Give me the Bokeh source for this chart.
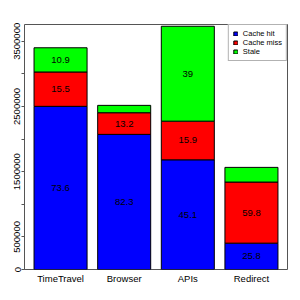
from bokeh.plotting import figure
from bokeh.models import ColumnDataSource, FactorRange, Range1d, FixedTicker, Legend
from bokeh.core.properties import value
from bokeh.embed import file_html
from bokeh.resources import INLINE

# ---- data ----
categories = ["TimeTravel", "Browser", "APIs", "Redirect"]
cache_hit = [2502000, 2072000, 1682000, 404000]
cache_miss = [527000, 332000, 593000, 937000]
stale = [371000, 113000, 1455000, 225000]
hit_labels = ["73.6", "82.3", "45.1", "25.8"]
miss_labels = ["15.5", "13.2", "15.9", "59.8"]
stale_labels = ["10.9", "", "39", ""]
series_names = ["Cache hit", "Cache miss", "Stale"]
series_colors = ["#0000FF", "#FF0000", "#00FF00"]
y_ticks = [0, 500000, 1000000, 1500000, 2000000, 2500000, 3000000, 3500000]
y_tick_labels = ["0", "500000", "", "1500000", "", "2500000", "", "3500000"]

FONT = "Liberation Sans"

source = ColumnDataSource(dict(cat=categories, hit=cache_hit, miss=cache_miss, stale=stale))

p = figure(
    width=300, height=300,
    x_range=FactorRange(*categories, factor_padding=0.2, range_padding=0.18,
                        range_padding_units="absolute"),
    y_range=Range1d(0, 3757000),
    output_backend="svg", toolbar_location=None,
    min_border_left=24, min_border_right=13, min_border_top=24, min_border_bottom=31,
)

renderers = p.vbar_stack(["hit", "miss", "stale"], x="cat", width=1.0, source=source,
                         fill_color=series_colors, line_color="black", line_width=1)

# segment labels at segment midpoints
lab_x, lab_y, lab_t = [], [], []
for i, c in enumerate(categories):
    segs = [cache_hit[i], cache_miss[i], stale[i]]
    labs = [hit_labels[i], miss_labels[i], stale_labels[i]]
    base = 0
    for s, t in zip(segs, labs):
        if t:
            lab_x.append(c)
            lab_y.append(base + s / 2)
            lab_t.append(t)
        base += s
p.text(x=lab_x, y=lab_y, text=lab_t, text_align="center", text_baseline="middle",
       text_font=value(FONT), text_font_size="9.5px", text_color="black")

legend = Legend(items=[(n, [r]) for n, r in zip(series_names, renderers)],
                location="top_right", margin=0, padding=4, spacing=0,
                glyph_width=5, glyph_height=5, label_height=9, label_standoff=5,
                label_text_font=FONT, label_text_font_size="7.5px",
                label_text_color="black",
                border_line_color="#666666", border_line_width=1,
                background_fill_color="white", background_fill_alpha=1)
p.add_layout(legend, "center")

p.xgrid.visible = False
p.ygrid.visible = False
p.outline_line_color = "#555555"
p.outline_line_width = 1

xa = p.xaxis[0]
xa.axis_line_color = None
xa.major_tick_line_color = None
xa.minor_tick_line_color = None
xa.major_tick_out = 0
xa.major_tick_in = 0
xa.minor_tick_out = 0
xa.major_label_standoff = 3
xa.major_label_text_font = FONT
xa.major_label_text_font_size = "9.5px"
xa.major_label_text_color = "black"

ya = p.yaxis[0]
ya.ticker = FixedTicker(ticks=y_ticks)
ya.major_label_overrides = {t: l for t, l in zip(y_ticks, y_tick_labels)}
ya.bounds = (y_ticks[0], y_ticks[-1])
ya.major_label_orientation = "vertical"
ya.major_tick_out = 3
ya.major_tick_in = 0
ya.minor_tick_line_color = None
ya.major_label_standoff = 1
ya.axis_line_color = "#555555"
ya.major_tick_line_color = "#555555"
ya.major_label_text_font = FONT
ya.major_label_text_font_size = "9.5px"
ya.major_label_text_color = "black"

open("out.html", "w").write(file_html(p, INLINE))
